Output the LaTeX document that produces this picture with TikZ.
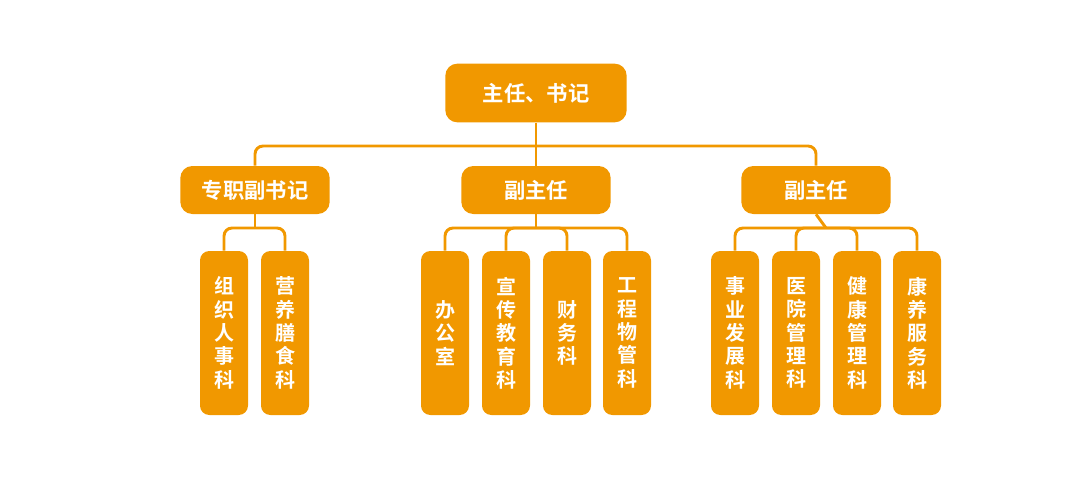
\documentclass[tikz,border=0pt]{standalone}
\usepackage{fontspec}
\setmainfont{Noto Sans CJK SC}[BoldFont={* Bold}]
\definecolor{deptorange}{RGB}{241,152,0}
\usetikzlibrary{positioning}
\tikzset{
  headbox/.style={fill=deptorange,rounded corners=9pt,text=white,font=\bfseries\fontsize{16}{18}\selectfont,inner sep=0pt},
  leafbox/.style={fill=deptorange,rounded corners=7pt,text=white,font=\bfseries\fontsize{15}{17.5}\selectfont,
    minimum width=36pt,minimum height=123pt,inner sep=0pt,align=center},
  link/.style={draw=deptorange,line width=2.2pt,rounded corners=6pt}
}
\begin{document}
\begin{tikzpicture}[x=0.75pt,y=-0.75pt]
                \useasboundingbox (0,0) rectangle (1080,500);
                % Top
                \node[headbox,minimum width=136pt,minimum height=44pt] (top) at (536,93) {主任、书记};
                % Second level
                \node[headbox,minimum width=112pt,minimum height=36pt] (zhuan) at (255,190) {专职副书记};
                \node[headbox,minimum width=112pt,minimum height=36pt] (fuA) at (536,190) {副主任};
                \node[headbox,minimum width=112pt,minimum height=36pt] (fuB) at (816,190) {副主任};
                \draw[link] (top.south) -- (536,146);
                \draw[link] (zhuan.north) |- (536,146) -| (fuB.north);
                \draw[link] (536,146) -- (fuA.north);
                
                % Leaves
                \foreach \nm/\cx/\txt in {
                    zz/224/组\\织\\人\\事\\科, yy/285/营\\养\\膳\\食\\科,
                    bg/445/办\\公\\室, xc/506/宣\\传\\教\\育\\科, cw/567/财\\务\\科, gc/627/工\\程\\物\\管\\科,
                    sy/735/事\\业\\发\\展\\科, yl/796/医\\院\\管\\理\\科, jk/857/健\\康\\管\\理\\科, kf/917/康\\养\\服\\务\\科}
                    \node[leafbox] (\nm) at (\cx,333) {\txt};
                
                % Connectors
                \draw[link] (zhuan.south) -- (255,228);
                \draw[link] (zz.north) |- (255,228) -| (yy.north);
                \draw[link] (fuA.south) -- (536,228);
                \draw[link] (bg.north) |- (536,228) -| (gc.north);
                \draw[link] (xc.north) |- (536,228) -| (cw.north);
                \draw[link] (fuB.south) -- (826,228);
                \draw[link] (sy.north) |- (826,228) -| (kf.north);
                \draw[link] (yl.north) |- (826,228) -| (jk.north);
\end{tikzpicture}
\end{document}
